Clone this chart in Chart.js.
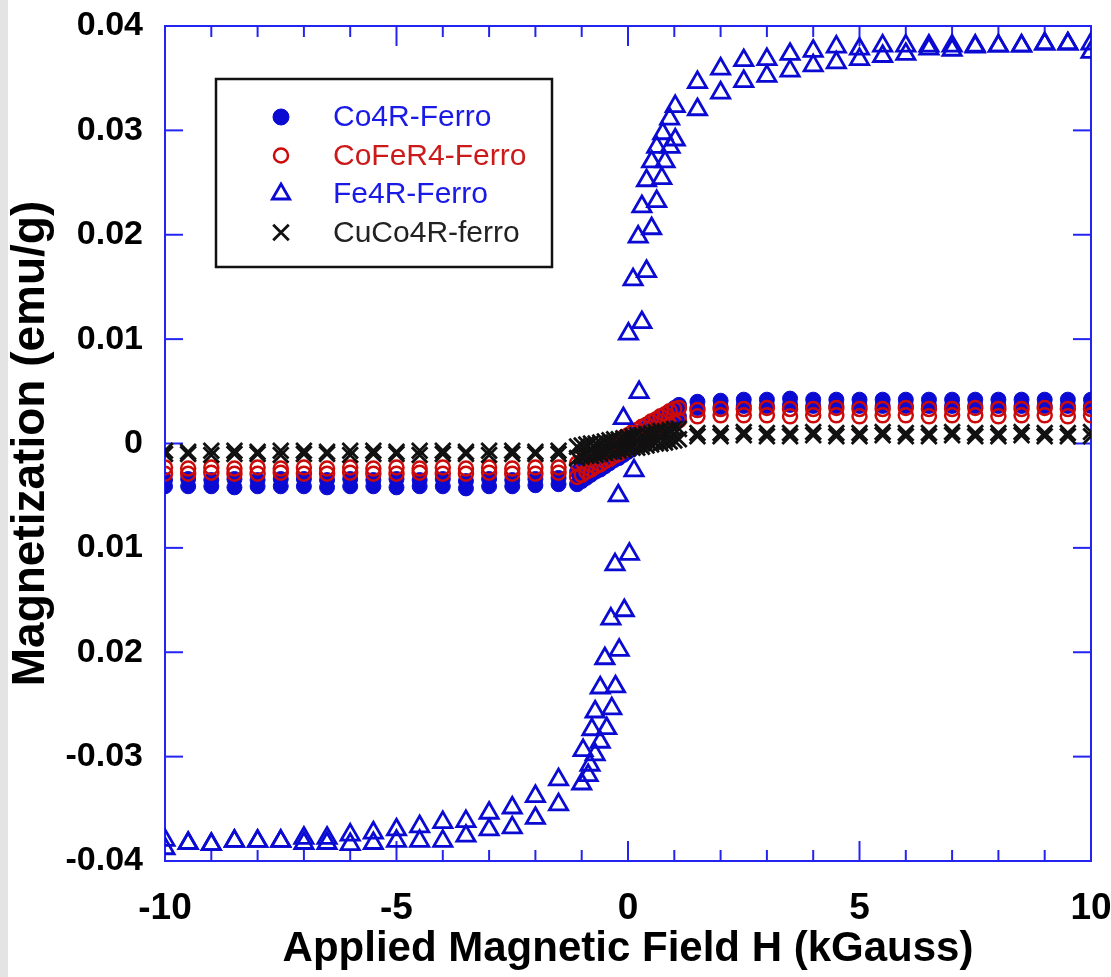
<!DOCTYPE html>
<html>
<head>
<meta charset="utf-8">
<title>Magnetization vs applied field</title>
<script src="https://cdn.jsdelivr.net/npm/chart.js@4.4.1/dist/chart.umd.min.js"></script>
<style>
  html, body { margin: 0; padding: 0; overflow: hidden; }
  body { width: 1111px; height: 977px; background: linear-gradient(to right, #e4e4e4 0, #e4e4e4 8px, #ffffff 8px); }
  #wrap { position: relative; width: 1111px; height: 977px; overflow: hidden; }
</style>
</head>
<body>
<div id="wrap"><canvas id="magChart" width="1120" height="977"></canvas></div>
<script>
// Field steps (kGauss) shared by the Co4R, CoFeR4 and CuCo4R sweeps
const sweepField = [-10, -9.5, -9, -8.5, -8, -7.5, -7, -6.5, -6, -5.5, -5, -4.5, -4, -3.5, -3, -2.5, -2, -1.5,
  -1.1, -1.0, -0.9, -0.8, -0.7, -0.6, -0.5, -0.4, -0.3, -0.2, -0.1, 0, 0.1, 0.2, 0.3, 0.4, 0.5, 0.6, 0.7, 0.8, 0.9, 1.0, 1.1,
  1.5, 2, 2.5, 3, 3.5, 4, 4.5, 5, 5.5, 6, 6.5, 7, 7.5, 8, 8.5, 9, 9.5, 10];

// Co4R-Ferro (emu/g)
const co4rDown = [-0.0035, -0.0034, -0.0035, -0.0034, -0.0035, -0.0034, -0.0034, -0.0035, -0.0034, -0.0035, -0.0034, -0.0035, -0.0034, -0.0036, -0.0034, -0.0035, -0.0034, -0.0033,
  -0.0027, -0.0024, -0.0021, -0.0018, -0.0015, -0.0013, -0.0010, -0.0007, -0.0004, -0.0002, 0.0001, 0.0004, 0.0007, 0.0010, 0.0012, 0.0015, 0.0018, 0.0021, 0.0024, 0.0027, 0.0030, 0.0034, 0.0037,
  0.0040, 0.0041, 0.0042, 0.0042, 0.0043, 0.0042, 0.0042, 0.0042, 0.0042, 0.0042, 0.0042, 0.0042, 0.0042, 0.0042, 0.0042, 0.0042, 0.0042, 0.0042];
const co4rUp = [-0.0041, -0.0041, -0.0041, -0.0042, -0.0041, -0.0041, -0.0041, -0.0042, -0.0041, -0.0041, -0.0042, -0.0041, -0.0041, -0.0043, -0.0041, -0.0041, -0.0040, -0.0039,
  -0.0039, -0.0036, -0.0033, -0.0030, -0.0027, -0.0025, -0.0022, -0.0019, -0.0016, -0.0014, -0.0011, -0.0008, -0.0005, -0.0002, 0.0000, 0.0003, 0.0006, 0.0009, 0.0012, 0.0015, 0.0018, 0.0022, 0.0026,
  0.0034, 0.0035, 0.0036, 0.0036, 0.0037, 0.0036, 0.0036, 0.0036, 0.0036, 0.0036, 0.0036, 0.0036, 0.0036, 0.0036, 0.0036, 0.0036, 0.0036, 0.0036];

// CoFeR4-Ferro
const cofeDown = [-0.0023, -0.0024, -0.0023, -0.0024, -0.0023, -0.0024, -0.0023, -0.0024, -0.0023, -0.0024, -0.0023, -0.0024, -0.0023, -0.0024, -0.0023, -0.0024, -0.0023, -0.0023,
  -0.0019, -0.0017, -0.0014, -0.0012, -0.0009, -0.0007, -0.0004, -0.0002, 0.0001, 0.0003, 0.0006, 0.0008, 0.0011, 0.0013, 0.0016, 0.0018, 0.0021, 0.0023, 0.0026, 0.0028, 0.0031, 0.0033, 0.0034,
  0.0032, 0.0033, 0.0033, 0.0034, 0.0033, 0.0033, 0.0034, 0.0033, 0.0033, 0.0034, 0.0033, 0.0033, 0.0034, 0.0033, 0.0033, 0.0034, 0.0033, 0.0033];
const cofeUp = [-0.0029, -0.0029, -0.0028, -0.0029, -0.0029, -0.0028, -0.0029, -0.0029, -0.0028, -0.0029, -0.0029, -0.0028, -0.0029, -0.0029, -0.0028, -0.0029, -0.0029, -0.0028,
  -0.0032, -0.0030, -0.0027, -0.0025, -0.0022, -0.0020, -0.0017, -0.0015, -0.0012, -0.0010, -0.0007, -0.0005, -0.0002, 0.0000, 0.0003, 0.0005, 0.0008, 0.0010, 0.0013, 0.0015, 0.0018, 0.0020, 0.0022,
  0.0026, 0.0027, 0.0027, 0.0027, 0.0026, 0.0027, 0.0027, 0.0026, 0.0027, 0.0027, 0.0026, 0.0027, 0.0027, 0.0026, 0.0027, 0.0027, 0.0026, 0.0027];

// CuCo4R-ferro
const cucoDown = [-0.0007, -0.0008, -0.0007, -0.0007, -0.0008, -0.0007, -0.0007, -0.0008, -0.0007, -0.0007, -0.0008, -0.0007, -0.0007, -0.0008, -0.0007, -0.0007, -0.0008, -0.0007,
  -0.0003, -0.0002, -0.0001, 0.0000, 0.0000, 0.0001, 0.0002, 0.0003, 0.0004, 0.0004, 0.0005, 0.0006, 0.0007, 0.0008, 0.0008, 0.0009, 0.0010, 0.0011, 0.0012, 0.0012, 0.0013, 0.0014, 0.0014,
  0.0010, 0.0010, 0.0011, 0.0010, 0.0010, 0.0011, 0.0010, 0.0010, 0.0011, 0.0010, 0.0010, 0.0011, 0.0010, 0.0010, 0.0011, 0.0010, 0.0010, 0.0011];
const cucoUp = [-0.0010, -0.0010, -0.0011, -0.0010, -0.0010, -0.0011, -0.0010, -0.0010, -0.0011, -0.0010, -0.0010, -0.0011, -0.0010, -0.0010, -0.0011, -0.0010, -0.0010, -0.0010,
  -0.0014, -0.0013, -0.0012, -0.0012, -0.0011, -0.0010, -0.0009, -0.0008, -0.0008, -0.0007, -0.0006, -0.0005, -0.0004, -0.0004, -0.0003, -0.0002, -0.0001, 0.0000, 0.0000, 0.0001, 0.0002, 0.0003, 0.0004,
  0.0007, 0.0007, 0.0008, 0.0007, 0.0007, 0.0008, 0.0007, 0.0007, 0.0008, 0.0007, 0.0007, 0.0008, 0.0007, 0.0007, 0.0008, 0.0007, 0.0007, 0.0007];

// Fe4R-Ferro: descending branch (+10 -> -10) and ascending branch (-10 -> +10)
const fe4rDownField = [10, 9.5, 9, 8.5, 8, 7.5, 7, 6.5, 6, 5.5, 5, 4.5, 4, 3.5, 3, 2.5, 2, 1.5,
  1.02, 0.9, 0.75, 0.62, 0.51, 0.4, 0.3, 0.22, 0.11, 0.01, -0.1, -0.21, -0.28, -0.37, -0.5, -0.6, -0.71, -0.78, -0.97,
  -1.5, -2, -2.5, -3, -3.5, -4, -4.5, -5, -5.5, -6, -6.5, -7, -7.5, -8, -8.5, -9, -9.5, -10];
const fe4rDownM = [0.0383, 0.0383, 0.0383, 0.0381, 0.0381, 0.0381, 0.0381, 0.0381, 0.0381, 0.0381, 0.0378, 0.0380, 0.0376, 0.0373, 0.0368, 0.0367, 0.0359, 0.0346,
  0.0323, 0.0311, 0.0297, 0.0284, 0.0270, 0.0252, 0.0227, 0.0198, 0.0157, 0.0105, 0.0024, -0.0050, -0.0116, -0.0168, -0.0206, -0.0234, -0.0257, -0.0274, -0.0294,
  -0.0322, -0.0338, -0.0349, -0.0354, -0.0362, -0.0363, -0.0367, -0.0370, -0.0373, -0.0375, -0.0378, -0.0378, -0.0381, -0.0381, -0.0381, -0.0384, -0.0383, -0.0380];
const fe4rUpField = [-10, -9.5, -9, -8.5, -8, -7.5, -7, -6.5, -6, -5.5, -5, -4.5, -4, -3.5, -3, -2.5, -2, -1.5,
  -1.0, -0.86, -0.82, -0.71, -0.6, -0.46, -0.35, -0.27, -0.19, -0.08, 0.03, 0.13, 0.24, 0.3, 0.4, 0.51, 0.62, 0.73, 0.8, 0.91, 1.02,
  1.5, 2, 2.5, 3, 3.5, 4, 4.5, 5, 5.5, 6, 6.5, 7, 7.5, 8, 8.5, 9, 9.5, 10];
const fe4rUpM = [-0.0388, -0.0383, -0.0384, -0.0381, -0.0381, -0.0381, -0.0383, -0.0383, -0.0384, -0.0383, -0.0381, -0.0381, -0.0381, -0.0376, -0.0370, -0.0368, -0.0359, -0.0346,
  -0.0326, -0.0318, -0.0308, -0.0298, -0.0286, -0.0273, -0.0254, -0.0233, -0.0198, -0.0160, -0.0106, -0.0026, 0.0049, 0.0116, 0.0165, 0.0206, 0.0232, 0.0254, 0.0270, 0.0284, 0.0291,
  0.0320, 0.0336, 0.0347, 0.0352, 0.0357, 0.0362, 0.0365, 0.0368, 0.0371, 0.0373, 0.0378, 0.0377, 0.0380, 0.0381, 0.0381, 0.0383, 0.0383, 0.0375];

const seriesLabels = ['Co4R-Ferro', 'CoFeR4-Ferro', 'Fe4R-Ferro', 'CuCo4R-ferro'];
const xTickLabels = ['-10', '-5', '0', '5', '10'];
const yTickLabels = ['-0.04', '-0.03', '0.02', '0.01', '0', '0.01', '0.02', '0.03', '0.04'];
const xTitle = 'Applied Magnetic Field H (kGauss)';
const yTitle = 'Magnetization (emu/g)';

const axisBlue = '#2424f2';
const markBlue = '#0a0ad2';
const markRed = '#cc0a0a';
const markBlack = '#111111';
const fontFamily = '"Liberation Sans", Arial, Helvetica, sans-serif';

function toPoints(fields, values) {
    return fields.map((h, i) => ({ x: h, y: values[i] }));
}

// Frame round the plot with ticks pointing inwards on all four sides
const frameTicks = {
    id: 'frameTicks',
    beforeDatasetsDraw(chart) {
        const { ctx, chartArea: a, scales } = chart;
        const line = (x1, y1, x2, y2) => {
            ctx.beginPath();
            ctx.moveTo(x1, y1);
            ctx.lineTo(x2, y2);
            ctx.stroke();
        };
        ctx.save();
        ctx.strokeStyle = axisBlue;
        ctx.lineWidth = 2;
        ctx.strokeRect(a.left, a.top, a.right - a.left, a.bottom - a.top);
        scales.x.ticks.forEach(t => {
            const px = scales.x.getPixelForValue(t.value);
            const len = t.value % 5 === 0 ? 20 : 11;
            line(px, a.bottom, px, a.bottom - len);
            line(px, a.top, px, a.top + len);
        });
        scales.y.ticks.forEach(t => {
            const py = scales.y.getPixelForValue(t.value);
            line(a.left, py, a.left + 18, py);
            line(a.right, py, a.right - 18, py);
        });
        ctx.restore();
    }
};

// Boxed legend inside the plot, upper left
function drawMarker(ctx, style, x, y, r) {
    ctx.beginPath();
    if (style === 'triangle') {
        ctx.moveTo(x, y - r);
        ctx.lineTo(x + r * 0.866, y + r * 0.5);
        ctx.lineTo(x - r * 0.866, y + r * 0.5);
        ctx.closePath();
        ctx.stroke();
    } else if (style === 'crossRot') {
        const d = r * 0.707;
        ctx.moveTo(x - d, y - d); ctx.lineTo(x + d, y + d);
        ctx.moveTo(x + d, y - d); ctx.lineTo(x - d, y + d);
        ctx.stroke();
    } else {
        ctx.arc(x, y, r, 0, Math.PI * 2);
        ctx.fill();
        ctx.stroke();
    }
}

const boxLegend = {
    id: 'boxLegend',
    afterDraw(chart) {
        const ctx = chart.ctx;
        ctx.save();
        ctx.fillStyle = '#ffffff';
        ctx.fillRect(216, 79, 336, 188);
        ctx.strokeStyle = '#111111';
        ctx.lineWidth = 2.5;
        ctx.strokeRect(216, 79, 336, 188);
        ctx.font = '30px ' + fontFamily;
        ctx.textBaseline = 'middle';
        chart.data.datasets.forEach((ds, i) => {
            const cy = 117 + i * 38.5;
            ctx.strokeStyle = ds.borderColor;
            ctx.fillStyle = ds.backgroundColor;
            ctx.lineWidth = ds.borderWidth;
            drawMarker(ctx, ds.pointStyle, 281, cy, ds.legendRadius);
            ctx.fillStyle = ds.textColor;
            ctx.fillText(ds.label, 333, cy + 1);
        });
        ctx.restore();
    }
};

const ctx = document.getElementById('magChart');
new Chart(ctx, {
    type: 'scatter',
    data: {
        datasets: [{
            label: seriesLabels[0],
            data: toPoints(sweepField, co4rDown).concat(toPoints(sweepField, co4rUp)),
            pointStyle: 'circle',
            pointRadius: 7.5,
            backgroundColor: markBlue,
            borderColor: markBlue,
            borderWidth: 1,
            legendRadius: 8,
            textColor: '#1a1ae6',
            order: 4
        }, {
            label: seriesLabels[1],
            data: toPoints(sweepField, cofeDown).concat(toPoints(sweepField, cofeUp)),
            pointStyle: 'circle',
            pointRadius: 7,
            backgroundColor: 'rgba(0,0,0,0)',
            borderColor: markRed,
            borderWidth: 2.5,
            legendRadius: 7,
            textColor: '#cc1a1a',
            order: 3
        }, {
            label: seriesLabels[2],
            data: toPoints(fe4rDownField, fe4rDownM).concat(toPoints(fe4rUpField, fe4rUpM)),
            pointStyle: 'triangle',
            pointRadius: 10.5,
            backgroundColor: 'rgba(0,0,0,0)',
            borderColor: markBlue,
            borderWidth: 2.8,
            legendRadius: 10,
            textColor: '#1a1ae6',
            order: 2
        }, {
            label: seriesLabels[3],
            data: toPoints(sweepField, cucoDown).concat(toPoints(sweepField, cucoUp)),
            pointStyle: 'crossRot',
            pointRadius: 11,
            backgroundColor: markBlack,
            borderColor: markBlack,
            borderWidth: 2.8,
            legendRadius: 11,
            textColor: '#222222',
            order: 1
        }]
    },
    options: {
        responsive: false,
        animation: false,
        events: [],
        layout: { padding: { top: 26, right: 29, bottom: 0, left: 0 } },
        plugins: {
            legend: { display: false },
            tooltip: { enabled: false }
        },
        scales: {
            x: {
                type: 'linear',
                min: -10,
                max: 10,
                grid: { display: false, drawTicks: false },
                border: { display: false },
                ticks: {
                    stepSize: 1,
                    autoSkip: false,
                    maxRotation: 0,
                    padding: 26,
                    color: '#000',
                    font: { family: fontFamily, size: 37, weight: 'bold' },
                    callback: v => (v % 5 === 0 ? xTickLabels[(v + 10) / 5] : '')
                },
                title: {
                    display: true,
                    text: xTitle,
                    color: '#000',
                    font: { family: fontFamily, size: 42, weight: 'bold' },
                    padding: { top: 0, bottom: 2 }
                },
                afterFit: scale => {
                    scale.height = 116;
                    scale.paddingLeft = 0;
                    scale.paddingRight = 0;
                }
            },
            y: {
                type: 'linear',
                min: -0.04,
                max: 0.04,
                grid: { display: false, drawTicks: false },
                border: { display: false },
                ticks: {
                    stepSize: 0.01,
                    padding: 22,
                    color: '#000',
                    font: { family: fontFamily, size: 34, weight: 'bold' },
                    callback: (v, i) => yTickLabels[i]
                },
                title: {
                    display: true,
                    text: yTitle,
                    color: '#000',
                    font: { family: fontFamily, size: 46, weight: 'bold' },
                    padding: { top: 4, bottom: 0 }
                },
                afterFit: scale => {
                    scale.width = 165;
                    scale.paddingTop = 0;
                    scale.paddingBottom = 0;
                }
            }
        }
    },
    plugins: [frameTicks, boxLegend]
});
</script>
</body>
</html>
